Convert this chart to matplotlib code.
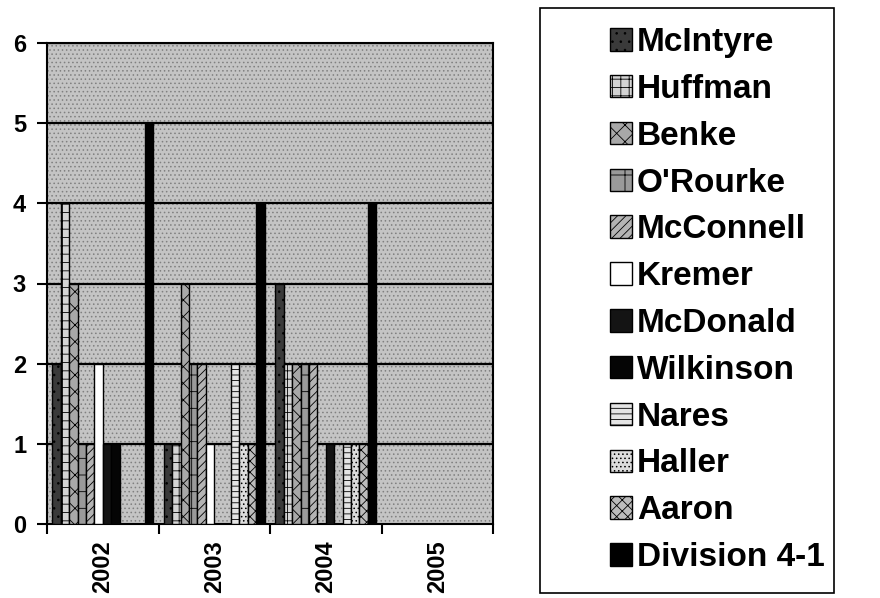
import numpy as np
import matplotlib
matplotlib.use('Agg')
import matplotlib.pyplot as plt
from matplotlib.patches import Rectangle
from matplotlib.ticker import FixedLocator

plt.rcParams['font.family'] = ['Liberation Sans', 'DejaVu Sans']
plt.rcParams['font.weight'] = 'bold'
plt.rcParams['hatch.linewidth'] = 0.6

years = ['2002', '2003', '2004', '2005']

mcintyre   = [2, 1, 3, 0]
huffman    = [4, 1, 2, 0]
benke      = [3, 3, 2, 0]
orourke    = [1, 2, 2, 0]
mcconnell  = [1, 2, 2, 0]
kremer     = [2, 1, 0, 0]
mcdonald   = [1, 0, 1, 0]
wilkinson  = [1, 0, 0, 0]
nares      = [0, 2, 1, 0]
haller     = [0, 1, 1, 0]
aaron      = [0, 1, 1, 0]
division   = [5, 4, 4, 0]

names = ['McIntyre', 'Huffman', 'Benke', "O'Rourke", 'McConnell', 'Kremer',
         'McDonald', 'Wilkinson', 'Nares', 'Haller', 'Aaron', 'Division 4-1']
series = [mcintyre, huffman, benke, orourke, mcconnell, kremer,
          mcdonald, wilkinson, nares, haller, aaron, division]

# grey fills + hatches to stand in for the printed patterns
fills = ['#3a3a3a', '#d4d4d4', '#a8a8a8', '#9a9a9a', '#b4b4b4', '#ffffff',
         '#141414', '#050505', '#e4e4e4', '#dcdcdc', '#bcbcbc', '#000000']
hatches = ['..', '++', 'xx', '-|', '////', '', '', '', '---', '....', 'xxx', '']

fig = plt.figure(figsize=(8.8, 5.98), dpi=100)
ax = fig.add_axes([47/880, 1 - 524/598, (493 - 47)/880, (524 - 43)/598])

# textured grey plot area
ax.set_facecolor('#c4c4c4')
ax.add_patch(Rectangle((0, 0), 1, 1, transform=ax.transAxes, facecolor='none',
                       edgecolor='#808080', hatch='....', lw=0, zorder=0))

x = np.arange(len(years))
w = 0.0753
for i, (vals, nm) in enumerate(zip(series, names)):
    ax.bar(x + (i - 5.5) * w, vals, width=w, color=fills[i], hatch=hatches[i],
           edgecolor='black', linewidth=1.0, label=nm, zorder=3)

for yv in range(1, 7):
    ax.axhline(yv, color='black', lw=1.6, zorder=2)

ax.set_xlim(-0.5, 3.5)
ax.set_ylim(0, 6)
ax.set_yticks(range(0, 7))
ax.xaxis.set_major_locator(FixedLocator([-0.5, 0.5, 1.5, 2.5, 3.5]))
ax.xaxis.set_major_formatter(plt.NullFormatter())
ax.set_xticks(x, minor=True)
ax.set_xticklabels(years, minor=True, rotation=90, fontsize=17, fontweight='bold')
ax.tick_params(axis='x', which='minor', length=0, pad=12)
ax.tick_params(axis='x', which='major', length=7, width=1.5, direction='out')
ax.tick_params(axis='y', length=7, width=1.5, direction='out', labelsize=17, pad=8)
for lab in ax.get_yticklabels():
    lab.set_fontweight('bold')
for s in ax.spines.values():
    s.set_color('black')
    s.set_linewidth(1.5)

# legend frame drawn separately so it matches the box in the original
fig.patches.append(Rectangle((540/880, 1 - 593/598), (834 - 540)/880, (593 - 8)/598,
                             transform=fig.transFigure, facecolor='white',
                             edgecolor='black', lw=1.2, zorder=0))
fig.legend(loc='upper left', bbox_to_anchor=(610/880, 1 - 27/598), frameon=False,
           prop={'size': 24, 'weight': 'bold'}, handlelength=0.66, handleheight=0.66,
           handletextpad=0.15, labelspacing=0.475, borderpad=0, borderaxespad=0)

plt.savefig('out.png', dpi=100)
